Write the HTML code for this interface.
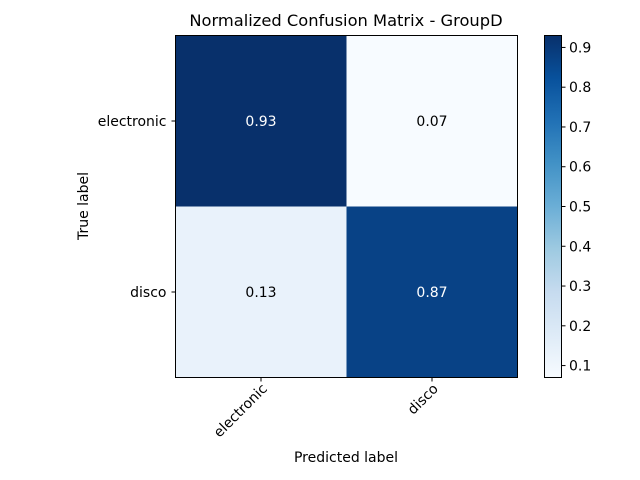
<!DOCTYPE html>
<html><head><meta charset="utf-8"><style>
body{margin:0;background:#fff;}
svg{display:block;font-family:"DejaVu Sans","Liberation Sans",sans-serif;}
</style></head><body>
<svg id="chart" width="640" height="480" viewBox="0 0 640 480">
<defs>
<linearGradient id="blues" x1="0" y1="1" x2="0" y2="0">
<stop offset="0" stop-color="#f7fbff"/><stop offset="0.125" stop-color="#deebf7"/>
<stop offset="0.25" stop-color="#c6dbef"/><stop offset="0.375" stop-color="#9ecae1"/>
<stop offset="0.5" stop-color="#6baed6"/><stop offset="0.625" stop-color="#4292c6"/>
<stop offset="0.75" stop-color="#2171b5"/><stop offset="0.875" stop-color="#08519c"/>
<stop offset="1" stop-color="#08306b"/>
</linearGradient>
</defs>
<text x="346" y="26" text-anchor="middle" font-size="16.3">Normalized Confusion Matrix - GroupD</text>
<g id="cells"></g>
<rect x="175.5" y="35.5" width="342" height="342" fill="none" stroke="#000" stroke-width="1"/>
<g id="axes"></g>
<text transform="translate(88,206) rotate(-90)" text-anchor="middle" font-size="14">True label</text>
<text x="346" y="462" text-anchor="middle" font-size="14">Predicted label</text>
<rect x="544.5" y="35.5" width="17" height="342" fill="url(#blues)" stroke="#000" stroke-width="1"/>
<g id="cbticks"></g>
</svg>
<script>
const labels = ["electronic", "disco"];
const values = [[0.93, 0.07], [0.13, 0.87]];
const cbTicks = [0.1, 0.2, 0.3, 0.4, 0.5, 0.6, 0.7, 0.8, 0.9];
const vmin = 0.07, vmax = 0.93;

const NS = "http://www.w3.org/2000/svg";
const x0 = 175.5, y0 = 35.5, size = 342, n = labels.length, cw = size / n;
const stops = [[0,"#f7fbff"],[0.125,"#deebf7"],[0.25,"#c6dbef"],[0.375,"#9ecae1"],[0.5,"#6baed6"],[0.625,"#4292c6"],[0.75,"#2171b5"],[0.875,"#08519c"],[1,"#08306b"]];
function hex(h){return [1,3,5].map(i=>parseInt(h.substr(i,2),16));}
function color(v){
  let t = Math.max(0, Math.min(1, (v - vmin) / (vmax - vmin)));
  for (let i = 1; i < stops.length; i++) {
    if (t <= stops[i][0]) {
      const a = stops[i-1], b = stops[i], f = (t - a[0]) / (b[0] - a[0]);
      const ca = hex(a[1]), cb = hex(b[1]);
      return "rgb(" + ca.map((c, k) => Math.round(c + (cb[k] - c) * f)).join(",") + ")";
    }
  }
  return stops[stops.length-1][1];
}
function el(tag, attrs, parent){const e=document.createElementNS(NS,tag);for(const k in attrs)e.setAttribute(k,attrs[k]);parent.appendChild(e);return e;}
const cells = document.getElementById("cells");
const axes = document.getElementById("axes");
const thresh = (vmax + vmin) / 2;
values.forEach((row, r) => row.forEach((v, c) => {
  const rect = el("rect", {x: x0 + c*cw, y: y0 + r*cw, width: cw, height: cw, fill: color(v)}, cells);
  
  
  const t = el("text", {x: x0 + c*cw + cw/2, y: y0 + r*cw + cw/2 + 5, "text-anchor": "middle", "font-size": "14", fill: v > thresh ? "#fff" : "#000"}, cells);
  t.textContent = v.toFixed(2);
  
  
}));
labels.forEach((lab, i) => {
  const cx = x0 + i*cw + cw/2, cy = y0 + i*cw + cw/2;
  el("line", {x1: cx, x2: cx, y1: y0+size, y2: y0+size+4, stroke: "#000"}, axes);
  el("line", {x1: x0-4, x2: x0, y1: cy, y2: cy, stroke: "#000"}, axes);
  const yl = el("text", {x: x0-9, y: cy+5, "text-anchor": "end", "font-size": "14"}, axes);
  yl.textContent = lab;
  
  
  const xl = el("text", {transform: "translate(" + (cx+7) + "," + (y0+size+12) + ") rotate(-45)", "text-anchor": "end", "font-size": "14"}, axes);
  xl.textContent = lab;
  
  
});
const cb = document.getElementById("cbticks");
const cbY = v => y0 + size - (v - vmin) / (vmax - vmin) * size;
cbTicks.forEach(v => {
  const y = cbY(v);
  el("line", {x1: 561.5, x2: 565.5, y1: y, y2: y, stroke: "#000"}, cb);
  const t = el("text", {x: 569, y: y+5, "font-size": "14"}, cb);
  t.textContent = v.toFixed(1);
  
  
});
</script>
</body></html>
